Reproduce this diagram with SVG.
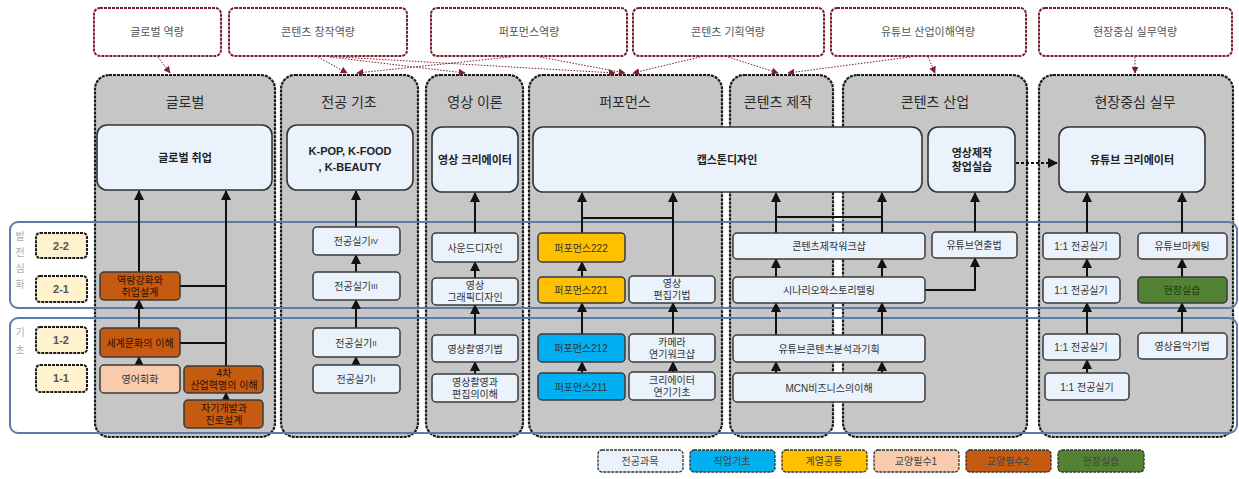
<svg xmlns="http://www.w3.org/2000/svg" width="1239" height="479" viewBox="0 0 1239 479">
<style>
text{font-family:"Liberation Sans","Noto Sans CJK KR",sans-serif;text-anchor:middle;dominant-baseline:central}
.top rect{fill:#fff;stroke:#7a1f2b;stroke-width:2;stroke-dasharray:3 1}
.top text{font-size:11px;fill:#555}
.col rect{fill:#c6c6c6;stroke:#1a1a1a;stroke-width:2.2;stroke-dasharray:3 1}
.col text{font-size:14px;fill:#2a2a2a}
.big rect{fill:#eaf2fc;stroke:#333;stroke-width:1.6}
.big text{font-size:11px;font-weight:bold;fill:#222}
.sm rect{fill:#eaf2fc;stroke:#3a3a3a;stroke-width:1.5}
.sm text{font-size:10px;fill:#333}
.or rect{fill:#c55a11}
.or text{fill:#2b1000}
.pe rect{fill:#f8cbad}
.ye rect{fill:#ffc000}
.bl rect{fill:#00b0f0}
.gr rect{fill:#548235}
.gr text{fill:#1e3a10}
.band{fill:none;stroke:#5b7ca6;stroke-width:2}
.lvl rect{fill:#fff2cc;stroke:#1a1a1a;stroke-width:2;stroke-dasharray:3 1}
.lvl text{font-size:11px;font-weight:bold;fill:#555}
.vlab{font-size:10px;fill:#aaa}
.leg rect{stroke:#333;stroke-width:1.3;stroke-dasharray:3 1}
.leg text{font-size:10px;fill:#444}
.c{stroke:#111;stroke-width:2;fill:none}
.ca{stroke:#111;stroke-width:2;fill:none;marker-end:url(#ah)}
.d{stroke:#7a1f2b;stroke-width:1;stroke-dasharray:1.5 1.5;fill:none;marker-end:url(#dh)}
</style>
<defs>
<marker id="ah" viewBox="0 0 10 10" refX="9" refY="5" markerWidth="5" markerHeight="5" orient="auto" markerUnits="strokeWidth"><path d="M0,0 L10,5 L0,10 z" fill="#111"/></marker>
<marker id="dh" viewBox="0 0 10 10" refX="9" refY="5" markerWidth="7" markerHeight="7" orient="auto" markerUnits="strokeWidth"><path d="M0,0 L10,5 L0,10 z" fill="#7a1f2b"/></marker>
</defs>

<!-- top competency boxes -->
<g id="cap1" class="top"><rect x="94" y="8" width="127" height="48" rx="6"/><text x="157" y="32">글로벌 역량</text></g>
<g id="cap2" class="top"><rect x="229" y="8" width="178" height="48" rx="6"/><text x="318" y="32">콘텐츠 창작역량</text></g>
<g id="cap3" class="top"><rect x="431" y="8" width="196" height="48" rx="6"/><text x="529" y="32">퍼포먼스역량</text></g>
<g id="cap4" class="top"><rect x="633" y="8" width="191" height="48" rx="6"/><text x="728" y="32">콘텐츠 기획역량</text></g>
<g id="cap5" class="top"><rect x="831" y="8" width="195" height="48" rx="6"/><text x="928" y="32">유튜브 산업이해역량</text></g>
<g id="cap6" class="top"><rect x="1039" y="8" width="193" height="48" rx="6"/><text x="1135" y="32">현장중심 실무역량</text></g>

<!-- columns -->
<g id="col1" class="col"><rect x="95" y="75" width="180" height="362" rx="14"/><text x="185" y="102">글로벌</text></g>
<g id="col2" class="col"><rect x="281" y="75" width="137" height="362" rx="14"/><text x="349" y="102">전공 기초</text></g>
<g id="col3" class="col"><rect x="426" y="75" width="97" height="362" rx="14"/><text x="475" y="102">영상 이론</text></g>
<g id="col4" class="col"><rect x="529" y="75" width="193" height="362" rx="14"/><text x="625" y="102">퍼포먼스</text></g>
<g id="col5" class="col"><rect x="730" y="75" width="103" height="362" rx="14"/><text x="778" y="102">콘텐츠 제작</text></g>
<g id="col6" class="col"><rect x="843" y="75" width="184" height="362" rx="14"/><text x="935" y="102">콘텐츠 산업</text></g>
<g id="col7" class="col"><rect x="1039" y="75" width="194" height="362" rx="14"/><text x="1135" y="102">현장중심 실무</text></g>

<!-- bands -->
<g id="bands">
<rect class="band" x="10" y="222" width="1227" height="86" rx="8"/>
<rect class="band" x="10" y="318" width="1227" height="115" rx="8"/>
<text class="vlab" x="20" y="236">발</text>
<text class="vlab" x="20" y="252">전</text>
<text class="vlab" x="20" y="268">심</text>
<text class="vlab" x="20" y="284">화</text>
<text class="vlab" x="20" y="332">기</text>
<text class="vlab" x="20" y="350">초</text>
</g>

<!-- level badges -->
<g id="lv22" class="lvl"><rect x="36" y="233" width="51" height="25" rx="4"/><text x="61" y="246">2-2</text></g>
<g id="lv21" class="lvl"><rect x="36" y="276" width="51" height="26" rx="4"/><text x="61" y="289">2-1</text></g>
<g id="lv12" class="lvl"><rect x="36" y="327" width="51" height="26" rx="4"/><text x="61" y="340">1-2</text></g>
<g id="lv11" class="lvl"><rect x="36" y="365" width="51" height="27" rx="4"/><text x="61" y="378">1-1</text></g>

<!-- connectors -->
<g id="connectors">
<path class="d" d="M158,57 L170,73"/>
<path class="d" d="M318,57 L347,73"/>
<path class="d" d="M330,57 L465,73"/>
<path class="d" d="M340,57 L615,73"/>
<path class="d" d="M510,57 L357,73"/>
<path class="d" d="M540,57 L625,73"/>
<path class="d" d="M700,57 L633,73"/>
<path class="d" d="M728,57 L778,73"/>
<path class="d" d="M910,57 L788,73"/>
<path class="d" d="M928,57 L935,73"/>
<path class="d" d="M1135,57 L1135,73"/>

<path class="ca" d="M139,272 V191"/>
<path class="ca" d="M226,366 V191"/>
<path class="c" d="M180,286 H226"/>
<path class="c" d="M180,343 H226"/>
<path class="ca" d="M139,328 V300"/>
<path class="ca" d="M139,365 V357"/>
<path class="ca" d="M226,400 V393"/>

<path class="ca" d="M356,227 V191"/>
<path class="ca" d="M356,272 V255"/>
<path class="ca" d="M356,328 V300"/>
<path class="ca" d="M356,365 V357"/>

<path class="ca" d="M475,233 V193"/>
<path class="ca" d="M475,278 V262"/>
<path class="ca" d="M475,335 V305"/>
<path class="ca" d="M475,374 V362"/>

<path class="ca" d="M582,233 V193"/>
<path class="ca" d="M582,277 V262"/>
<path class="ca" d="M582,334 V303"/>
<path class="ca" d="M582,373 V362"/>
<path class="ca" d="M673,276 V193"/>
<path class="ca" d="M673,334 V303"/>
<path class="ca" d="M673,372 V362"/>
<path class="c" d="M582,218 H673"/>

<path class="ca" d="M776,233 V193"/>
<path class="ca" d="M776,277 V259"/>
<path class="ca" d="M776,335 V303"/>
<path class="ca" d="M776,373 V362"/>
<path class="ca" d="M882,233 V193"/>
<path class="ca" d="M882,277 V259"/>
<path class="ca" d="M882,335 V303"/>
<path class="ca" d="M882,373 V362"/>
<path class="c" d="M776,217 H882"/>
<path class="ca" d="M925,290 H975 V258"/>
<path class="ca" d="M975,232 V193"/>

<path class="ca" d="M1087,233 V193"/>
<path class="ca" d="M1087,277 V259"/>
<path class="ca" d="M1087,334 V303"/>
<path class="ca" d="M1087,373 V360"/>
<path class="ca" d="M1182,233 V193"/>
<path class="ca" d="M1182,277 V259"/>
<path class="ca" d="M1182,333 V303"/>

<path class="ca" d="M1016,163 H1057" stroke-dasharray="3 2"/>
</g>

<!-- big boxes -->
<g id="b_global" class="big"><rect x="97" y="125" width="175" height="65" rx="10"/><text x="185" y="158">글로벌 취업</text></g>
<g id="b_kpop" class="big"><rect x="287" y="125" width="126" height="65" rx="10"/><text x="350" y="151">K-POP, K-FOOD</text><text x="350" y="167">, K-BEAUTY</text></g>
<g id="b_video" class="big"><rect x="432" y="127" width="86" height="65" rx="10"/><text x="475" y="160">영상 크리에이터</text></g>
<g id="b_cap" class="big"><rect x="533" y="127" width="389" height="65" rx="10"/><text x="727" y="160">캡스톤디자인</text></g>
<g id="b_start" class="big"><rect x="928" y="127" width="87" height="65" rx="10"/><text x="972" y="153">영상제작</text><text x="972" y="167">창업실습</text></g>
<g id="b_yt" class="big"><rect x="1059" y="127" width="146" height="65" rx="10"/><text x="1132" y="160">유튜브 크리에이터</text></g>

<!-- global column -->
<g id="g_career" class="sm or"><rect x="100" y="272" width="80" height="28" rx="4"/><text x="140" y="280">역량강화와</text><text x="140" y="292">취업설계</text></g>
<g id="g_world" class="sm or"><rect x="100" y="328" width="80" height="29" rx="4"/><text x="140" y="343">세계문화의 이해</text></g>
<g id="g_eng" class="sm pe"><rect x="100" y="365" width="80" height="28" rx="4"/><text x="140" y="379">영어회화</text></g>
<g id="g_4th" class="sm or"><rect x="184" y="366" width="79" height="27" rx="4"/><text x="224" y="373">4차</text><text x="224" y="385">산업혁명의 이해</text></g>
<g id="g_self" class="sm or"><rect x="184" y="400" width="79" height="28" rx="4"/><text x="224" y="408">자기개발과</text><text x="224" y="420">진로설계</text></g>

<!-- major basics -->
<g id="m4" class="sm"><rect x="313" y="227" width="87" height="28" rx="4"/><text x="356" y="241">전공실기<tspan font-size="8">IV</tspan></text></g>
<g id="m3" class="sm"><rect x="313" y="272" width="87" height="28" rx="4"/><text x="356" y="286">전공실기<tspan font-size="8">III</tspan></text></g>
<g id="m2" class="sm"><rect x="313" y="328" width="87" height="29" rx="4"/><text x="356" y="343">전공실기<tspan font-size="8">II</tspan></text></g>
<g id="m1" class="sm"><rect x="313" y="365" width="87" height="28" rx="4"/><text x="356" y="379">전공실기<tspan font-size="8">I</tspan></text></g>

<!-- video theory -->
<g id="v_sound" class="sm"><rect x="432" y="233" width="86" height="29" rx="4"/><text x="475" y="248">사운드디자인</text></g>
<g id="v_graph" class="sm"><rect x="432" y="278" width="86" height="27" rx="4"/><text x="475" y="285">영상</text><text x="475" y="297">그래픽디자인</text></g>
<g id="v_shoot" class="sm"><rect x="432" y="335" width="86" height="27" rx="4"/><text x="475" y="349">영상촬영기법</text></g>
<g id="v_edit" class="sm"><rect x="432" y="374" width="86" height="28" rx="4"/><text x="475" y="382">영상촬영과</text><text x="475" y="394">편집의이해</text></g>

<!-- performance -->
<g id="p222" class="sm ye"><rect x="538" y="233" width="87" height="29" rx="4"/><text x="581" y="248">퍼포먼스222</text></g>
<g id="p221" class="sm ye"><rect x="538" y="277" width="87" height="26" rx="4"/><text x="581" y="290">퍼포먼스221</text></g>
<g id="p212" class="sm bl"><rect x="538" y="334" width="87" height="28" rx="4"/><text x="581" y="348">퍼포먼스212</text></g>
<g id="p211" class="sm bl"><rect x="538" y="373" width="87" height="27" rx="4"/><text x="581" y="387">퍼포먼스211</text></g>
<g id="p_edit" class="sm"><rect x="629" y="276" width="86" height="27" rx="4"/><text x="672" y="283">영상</text><text x="672" y="295">편집기법</text></g>
<g id="p_cam" class="sm"><rect x="629" y="334" width="86" height="28" rx="4"/><text x="672" y="342">카메라</text><text x="672" y="354">연기워크샵</text></g>
<g id="p_act" class="sm"><rect x="629" y="372" width="86" height="28" rx="4"/><text x="672" y="380">크리에이터</text><text x="672" y="392">연기기초</text></g>

<!-- content production / industry -->
<g id="c_ws" class="sm"><rect x="733" y="233" width="192" height="26" rx="4"/><text x="829" y="246">콘텐츠제작워크샵</text></g>
<g id="c_story" class="sm"><rect x="733" y="277" width="192" height="26" rx="4"/><text x="829" y="290">시나리오와스토리텔링</text></g>
<g id="c_anal" class="sm"><rect x="733" y="335" width="192" height="27" rx="4"/><text x="829" y="349">유튜브콘텐츠분석과기획</text></g>
<g id="c_mcn" class="sm"><rect x="733" y="373" width="192" height="29" rx="4"/><text x="829" y="388">MCN비즈니스의이해</text></g>
<g id="c_dir" class="sm"><rect x="932" y="232" width="85" height="26" rx="4"/><text x="974" y="245">유튜브연출법</text></g>

<!-- field practice -->
<g id="f1" class="sm"><rect x="1043" y="233" width="77" height="26" rx="4"/><text x="1081" y="246">1:1 전공실기</text></g>
<g id="f2" class="sm"><rect x="1043" y="277" width="77" height="26" rx="4"/><text x="1081" y="290">1:1 전공실기</text></g>
<g id="f3" class="sm"><rect x="1043" y="334" width="77" height="26" rx="4"/><text x="1081" y="347">1:1 전공실기</text></g>
<g id="f4" class="sm"><rect x="1045" y="373" width="84" height="27" rx="4"/><text x="1087" y="387">1:1 전공실기</text></g>
<g id="f_mkt" class="sm"><rect x="1138" y="233" width="89" height="26" rx="4"/><text x="1182" y="246">유튜브마케팅</text></g>
<g id="f_prac" class="sm gr"><rect x="1138" y="277" width="89" height="26" rx="4"/><text x="1182" y="290">현장실습</text></g>
<g id="f_music" class="sm"><rect x="1138" y="333" width="89" height="26" rx="4"/><text x="1182" y="346">영상음악기법</text></g>

<!-- legend -->
<g id="legend" class="leg">
<rect x="598" y="450" width="85" height="22" rx="4" fill="#eaf2fc"/><text x="640" y="461">전공과목</text>
<rect x="690" y="450" width="85" height="22" rx="4" fill="#00b0f0"/><text x="732" y="461">직업기초</text>
<rect x="782" y="450" width="85" height="22" rx="4" fill="#ffc000"/><text x="824" y="461">계열공통</text>
<rect x="874" y="450" width="85" height="22" rx="4" fill="#f8cbad"/><text x="916" y="461">교양필수1</text>
<rect x="966" y="450" width="85" height="22" rx="4" fill="#c55a11"/><text x="1008" y="461">교양필수2</text>
<rect x="1058" y="450" width="86" height="22" rx="4" fill="#548235"/><text x="1101" y="461">현장실습</text>
</g>
</svg>
